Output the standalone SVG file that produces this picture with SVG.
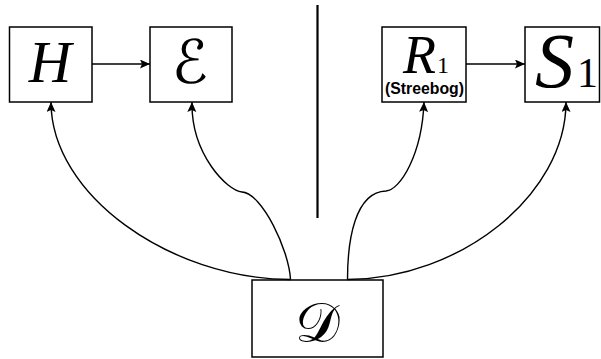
<svg xmlns="http://www.w3.org/2000/svg" width="601" height="359" viewBox="0 0 601 359">
<style>
.box{fill:#fff;stroke:#000;stroke-width:1.5}
.edge{fill:none;stroke:#000;stroke-width:1.4}
.mi{font-family:"Liberation Serif","DejaVu Serif",serif;font-style:italic;fill:#000}
.rm{font-family:"Liberation Serif","DejaVu Serif",serif;fill:#000}
.cal{font-family:"DejaVu Sans","DejaVu Serif","Noto Sans",serif;fill:#000}
.lbl{font-family:"Liberation Sans","DejaVu Sans",sans-serif;font-weight:bold;fill:#000}
</style>
<defs>
<marker id="arr" markerUnits="userSpaceOnUse" markerWidth="12" markerHeight="10" refX="10" refY="4.5" orient="auto">
<path d="M0,0 L10,4.5 L0,9 L2,4.5 Z" fill="#000"/>
</marker>
</defs>
<g id="divider"><line x1="317.5" y1="5" x2="317.5" y2="218" stroke="#000" stroke-width="2.2"/></g>
<g id="node-H"><rect class="box" x="9.5" y="27" width="82.5" height="75"/><text class="mi" x="50" y="82" font-size="59" text-anchor="middle">H</text></g>
<g id="node-E"><rect class="box" x="150" y="27" width="82" height="75"/><text class="cal" x="190" y="83" font-size="60" text-anchor="middle">ℰ</text></g>
<g id="node-R1"><rect class="box" x="382" y="27" width="84" height="75"/><text class="mi" x="403" y="73" font-size="54">R</text><text class="rm" x="437" y="73" font-size="24">1</text><text class="lbl" x="385" y="94" font-size="17" textLength="79" lengthAdjust="spacingAndGlyphs">(Streebog)</text></g>
<g id="node-S1"><rect class="box" x="525" y="27" width="74.5" height="75"/><text class="mi" x="535" y="87" font-size="78">S</text><text class="rm" x="577" y="87" font-size="42">1</text></g>
<g id="node-D"><rect class="box" x="252" y="280" width="131" height="77"/><text class="cal" x="317" y="342" font-size="56" text-anchor="middle">𝒟</text></g>
<g id="connectors">
<line class="edge" x1="92" y1="64" x2="150" y2="64" marker-end="url(#arr)"/>
<line class="edge" x1="466" y1="64" x2="525" y2="64" marker-end="url(#arr)"/>
<path class="edge" d="M290.5,279.5 C170,279 51,195 51,102" marker-end="url(#arr)"/>
<path class="edge" d="M290.5,279.5 C289,250 262,193 242,192 C228,191 191,155 192,102" marker-end="url(#arr)"/>
<path class="edge" d="M347.5,279.5 C347.5,240 355,192 386,191 C400,190 422,155 424,102" marker-end="url(#arr)"/>
<path class="edge" d="M347.5,279.5 C460,279 566,195 566,102" marker-end="url(#arr)"/>
</g>
</svg>
